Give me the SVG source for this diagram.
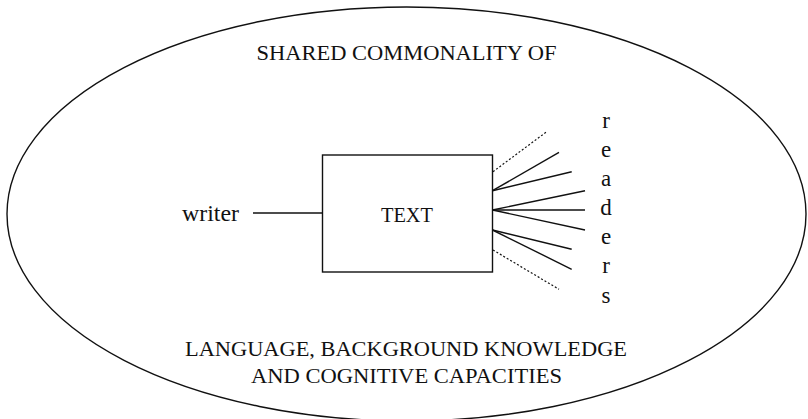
<svg xmlns="http://www.w3.org/2000/svg" width="808" height="419" viewBox="0 0 808 419">
  <style>
    .lbl { font-family: "Liberation Serif", "Times New Roman", serif; font-size: 21px; fill: #111; }
    .rd { font-size: 23px; }
    .edge { stroke: #111; stroke-width: 1.4; fill: none; }
    .dot { stroke: #111; stroke-width: 1.2; stroke-dasharray: 2 2; fill: none; }
  </style>
  <rect width="808" height="419" fill="#fff"/>

  <g id="context">
    <ellipse cx="406.5" cy="214" rx="399.5" ry="207" fill="none" stroke="#111" stroke-width="1.4"/>
    <text class="lbl" x="406.5" y="59.5" text-anchor="middle" textLength="300" lengthAdjust="spacingAndGlyphs">SHARED COMMONALITY OF</text>
    <text class="lbl" x="406" y="356" text-anchor="middle" textLength="442" lengthAdjust="spacingAndGlyphs">LANGUAGE, BACKGROUND KNOWLEDGE</text>
    <text class="lbl" x="406.5" y="383" text-anchor="middle" textLength="311" lengthAdjust="spacingAndGlyphs">AND COGNITIVE CAPACITIES</text>
  </g>

  <g id="writer">
    <text class="lbl rd" x="182" y="221" textLength="57" lengthAdjust="spacingAndGlyphs">writer</text>
  </g>

  <g id="text-box">
    <rect x="322.5" y="155" width="170" height="117" fill="none" stroke="#111" stroke-width="1.4"/>
    <text class="lbl" x="407" y="222" text-anchor="middle" textLength="52" lengthAdjust="spacingAndGlyphs">TEXT</text>
  </g>

  <g id="readers">
    <text class="lbl rd" x="606" y="128" text-anchor="middle">r</text>
    <text class="lbl rd" x="606" y="157" text-anchor="middle">e</text>
    <text class="lbl rd" x="606" y="186" text-anchor="middle">a</text>
    <text class="lbl rd" x="606" y="215" text-anchor="middle">d</text>
    <text class="lbl rd" x="606" y="244" text-anchor="middle">e</text>
    <text class="lbl rd" x="606" y="273" text-anchor="middle">r</text>
    <text class="lbl rd" x="606" y="303" text-anchor="middle">s</text>
  </g>

  <g id="connectors">
    <line class="edge" x1="253" y1="213" x2="322.5" y2="213"/>
    <line class="dot" x1="493" y1="171.7" x2="546.7" y2="131.7"/>
    <line class="edge" x1="492.5" y1="190.7" x2="559" y2="152.3"/>
    <line class="edge" x1="492.5" y1="190.7" x2="571.7" y2="171.7"/>
    <line class="edge" x1="492.5" y1="210" x2="585" y2="190.7"/>
    <line class="edge" x1="492.5" y1="210" x2="585" y2="210"/>
    <line class="edge" x1="492.5" y1="210" x2="585" y2="230"/>
    <line class="edge" x1="492.5" y1="230" x2="571.7" y2="249.3"/>
    <line class="edge" x1="492.5" y1="230" x2="571.7" y2="269.3"/>
    <line class="dot" x1="493" y1="250" x2="559" y2="289.3"/>
  </g>
</svg>
